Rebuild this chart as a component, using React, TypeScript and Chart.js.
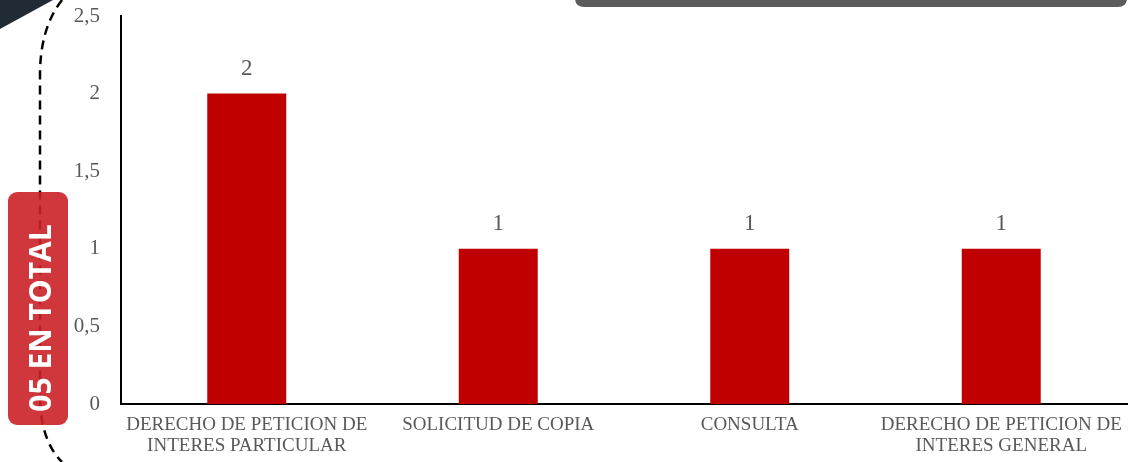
import React, { useEffect, useRef } from "react";
import { Chart, registerables } from "chart.js";

Chart.register(...registerables);

const categories: string[][] = [
  ["DERECHO DE PETICION DE", "INTERES PARTICULAR"],
  ["SOLICITUD DE COPIA"],
  ["CONSULTA"],
  ["DERECHO DE PETICION DE", "INTERES GENERAL"],
];
const values: number[] = [2, 1, 1, 1];
const yTicks: number[] = [0, 0.5, 1, 1.5, 2, 2.5];
const badgeText = "05 EN TOTAL";

const FONT = "'Liberation Serif', 'Times New Roman', serif";
const GRAY = "#595959";

const valueLabels = {
  id: "valueLabels",
  afterDatasetsDraw(chart: any) {
    const ctx = chart.ctx;
    const meta = chart.getDatasetMeta(0);
    ctx.save();
    ctx.font = `23px ${FONT}`;
    ctx.fillStyle = GRAY;
    ctx.textAlign = "center";
    ctx.textBaseline = "middle";
    meta.data.forEach((bar: any, i: number) => {
      ctx.fillText(String(values[i]), bar.x, bar.y - 25);
    });
    ctx.restore();
  },
};

export default function App() {
  const ref = useRef<HTMLCanvasElement | null>(null);
  useEffect(() => {
    if (!ref.current) return;
    const chart = new Chart(ref.current, {
      type: "bar",
      data: {
        labels: categories,
        datasets: [
          {
            data: values,
            backgroundColor: "#c00000",
            categoryPercentage: 1,
            barPercentage: 0.314,
          },
        ],
      },
      options: {
        animation: false,
        responsive: false,
        maintainAspectRatio: false,
        layout: { padding: { top: 16, right: 14, left: 0, bottom: 0 } },
        plugins: { legend: { display: false }, tooltip: { enabled: false } },
        scales: {
          x: {
            grid: { display: false, drawTicks: false },
            border: { display: true, color: "#000", width: 2 },
            ticks: {
              color: GRAY,
              font: { family: FONT, size: 19, lineHeight: 1.1 },
              padding: 11,
              maxRotation: 0,
              autoSkip: false,
            },
            afterFit: (s: any) => {
              s.height = 58;
              s.paddingLeft = 0;
              s.paddingRight = 0;
            },
          },
          y: {
            min: 0,
            max: 2.5,
            afterBuildTicks: (s: any) => {
              s.ticks = yTicks.map((v) => ({ value: v }));
            },
            grid: { display: false, drawTicks: false },
            border: { display: true, color: "#000", width: 2 },
            ticks: {
              color: GRAY,
              font: { family: FONT, size: 21 },
              padding: 21,
              callback: (v: any) => String(v).replace(".", ","),
            },
            afterFit: (s: any) => {
              s.width = 121;
              s.paddingTop = 0;
              s.paddingBottom = 0;
            },
          },
        },
      },
      plugins: [valueLabels],
    });
    return () => chart.destroy();
  }, []);

  return (
    <div
      style={{
        position: "fixed",
        left: 0,
        top: 0,
        width: 1141,
        height: 462,
        background: "#fff",
        overflow: "hidden",
      }}
    >
      <canvas ref={ref} width={1141} height={462} style={{ position: "absolute", left: 0, top: 0 }} />
      <svg width={1141} height={462} style={{ position: "absolute", left: 0, top: 0, pointerEvents: "none" }}>
        <polygon points="0,0 53,0 0,29" fill="#222a36" />
        <path
          d="M 62 0 Q 40 28 40 75 L 40 395 Q 40 440 62 462"
          fill="none"
          stroke="#000"
          strokeWidth={2.5}
          strokeDasharray="9 6"
        />
        <rect x={8} y={192} width={60} height={233} rx={9} ry={9} fill="#cb2127" opacity={0.9} />
        <path d="M 575 0 L 1127 0 L 1127 -2 Q 1127 7 1118 7 L 584 7 Q 575 7 575 -2 Z" fill="#5c5c5c" />
      </svg>
      <div
        style={{
          position: "absolute",
          left: 40,
          top: 318,
          transform: "translate(-50%, -50%) rotate(-90deg)",
          color: "#fff",
          fontFamily: "'Open Sans', sans-serif",
          fontWeight: 700,
          fontSize: 30,
          whiteSpace: "nowrap",
          lineHeight: 1,
        }}
      >
        {badgeText}
      </div>
    </div>
  );
}
